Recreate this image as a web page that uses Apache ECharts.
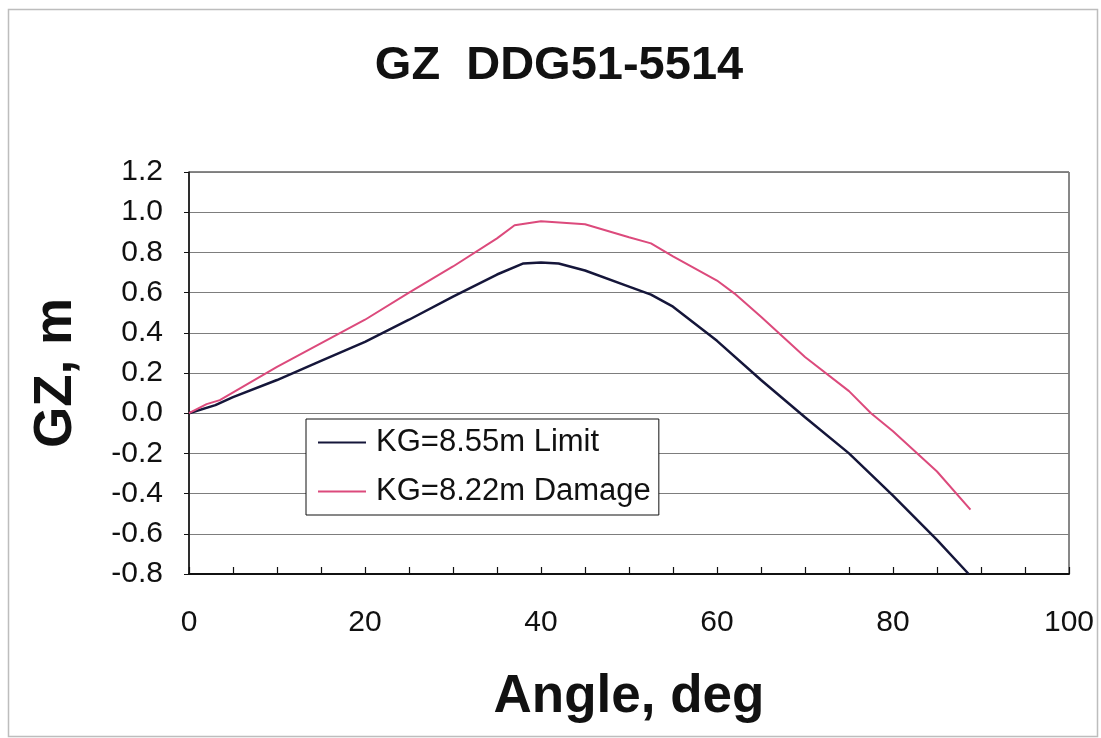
<!DOCTYPE html>
<html>
<head>
<meta charset="utf-8">
<title>GZ DDG51-5514</title>
<script src="https://cdn.jsdelivr.net/npm/echarts@6/dist/echarts.min.js"></script>
<style>
  html, body { margin: 0; padding: 0; background: #ffffff; }
  #chart { width: 1101px; height: 738px; }
</style>
</head>
<body>
<div id="chart"></div>
<script>
// Righting arm (GZ) curves, angle of heel in degrees vs GZ in metres
const limitAngles = [0, 3, 5, 10, 15, 20, 25, 30, 35, 38, 40, 42, 45, 50, 52.5, 55, 60, 65, 70, 75, 80, 85, 88.6];
const limitGZ     = [0, 0.04, 0.08, 0.165, 0.26, 0.355, 0.465, 0.58, 0.69, 0.745, 0.75, 0.745, 0.71, 0.63, 0.59, 0.53, 0.36, 0.165, -0.02, -0.2, -0.41, -0.63, -0.80];

const damageAngles = [0, 2, 3.5, 10, 20, 25, 30, 35, 37, 40, 45, 50, 52.5, 55, 60, 62, 65, 70, 75, 77.5, 80, 85, 88.8];
const damageGZ     = [0, 0.045, 0.065, 0.23, 0.465, 0.60, 0.73, 0.87, 0.935, 0.955, 0.94, 0.875, 0.845, 0.78, 0.66, 0.595, 0.48, 0.28, 0.11, 0, -0.09, -0.29, -0.48];

const seriesNames = ['KG=8.55m Limit', 'KG=8.22m Damage'];
const xLabelValues = [0, 20, 40, 60, 80, 100];
const chartTitle = 'GZ  DDG51-5514';

const pairs = (xs, ys) => xs.map((x, i) => [x, ys[i]]);
const FONT = '"Liberation Sans", Arial, sans-serif';

const chart = echarts.init(document.getElementById('chart'), null, { renderer: 'canvas' });

chart.setOption({
  backgroundColor: '#ffffff',
  animation: false,
  graphic: [
    {
      type: 'rect',
      shape: { x: 8.5, y: 9.5, width: 1089, height: 727 },
      style: { fill: 'none', stroke: '#bdbdbd', lineWidth: 1.5 },
      silent: true
    },
    {
      type: 'text',
      x: 559,
      y: 90,
      style: {
        text: chartTitle,
        fontFamily: FONT,
        fontSize: 47,
        fontWeight: 'bold',
        fill: '#111',
        textAlign: 'center',
        textVerticalAlign: 'bottom',
        verticalAlign: 'alphabetic'
      },
      silent: true
    }
  ],
  legend: {
    orient: 'vertical',
    left: 306,
    top: 419,
    data: seriesNames,
    icon: 'rect',
    backgroundColor: '#ffffff',
    borderColor: '#111',
    borderWidth: 1,
    borderRadius: 0,
    padding: [8, 8, 8, 12],
    itemWidth: 48,
    itemHeight: 2,
    itemGap: 18,
    textStyle: { fontFamily: FONT, fontSize: 31, color: '#111', lineHeight: 31, padding: [0, 0, 0, 5] }
  },
  grid: {
    left: 189,
    top: 172,
    right: 32,
    bottom: 164,
    show: true,
    borderColor: '#111',
    borderWidth: 1
  },
  xAxis: {
    type: 'value',
    min: 0,
    max: 100,
    interval: 5,
    name: 'Angle, deg',
    nameLocation: 'middle',
    nameGap: 97,
    nameTextStyle: { fontFamily: FONT, fontSize: 53, fontWeight: 'bold', color: '#111' },
    axisLine: { show: true, onZero: false, lineStyle: { color: '#111', width: 2 } },
    axisTick: { show: true, inside: true, length: 7, lineStyle: { color: '#111', width: 1.2 } },
    axisLabel: {
      fontFamily: FONT, fontSize: 30, color: '#111', margin: 34,
      formatter: v => (xLabelValues.indexOf(v) >= 0 ? String(v) : '')
    },
    splitLine: { show: false }
  },
  yAxis: {
    type: 'value',
    min: -0.8,
    max: 1.2,
    interval: 0.2,
    name: 'GZ, m',
    nameLocation: 'middle',
    nameRotate: 90,
    nameGap: 106,
    nameTextStyle: { fontFamily: FONT, fontSize: 53, fontWeight: 'bold', color: '#111' },
    axisLine: { show: true, onZero: false, lineStyle: { color: '#111', width: 1.5 } },
    axisTick: { show: true, inside: false, length: 5, lineStyle: { color: '#111', width: 1 } },
    axisLabel: {
      fontFamily: FONT, fontSize: 30, color: '#111', margin: 26,
      formatter: v => v.toFixed(1)
    },
    splitLine: { show: true, lineStyle: { color: '#7d7d7d', width: 1.2 } }
  },
  series: [
    {
      name: seriesNames[0],
      type: 'line',
      data: pairs(limitAngles, limitGZ),
      symbol: 'none',
      smooth: false,
      lineStyle: { color: '#15163a', width: 2.5 },
      itemStyle: { color: '#15163a' },
      z: 3
    },
    {
      name: seriesNames[1],
      type: 'line',
      data: pairs(damageAngles, damageGZ),
      symbol: 'none',
      smooth: false,
      lineStyle: { color: '#dc4a7c', width: 2 },
      itemStyle: { color: '#dc4a7c' },
      z: 3
    }
  ]
});
</script>
</body>
</html>
